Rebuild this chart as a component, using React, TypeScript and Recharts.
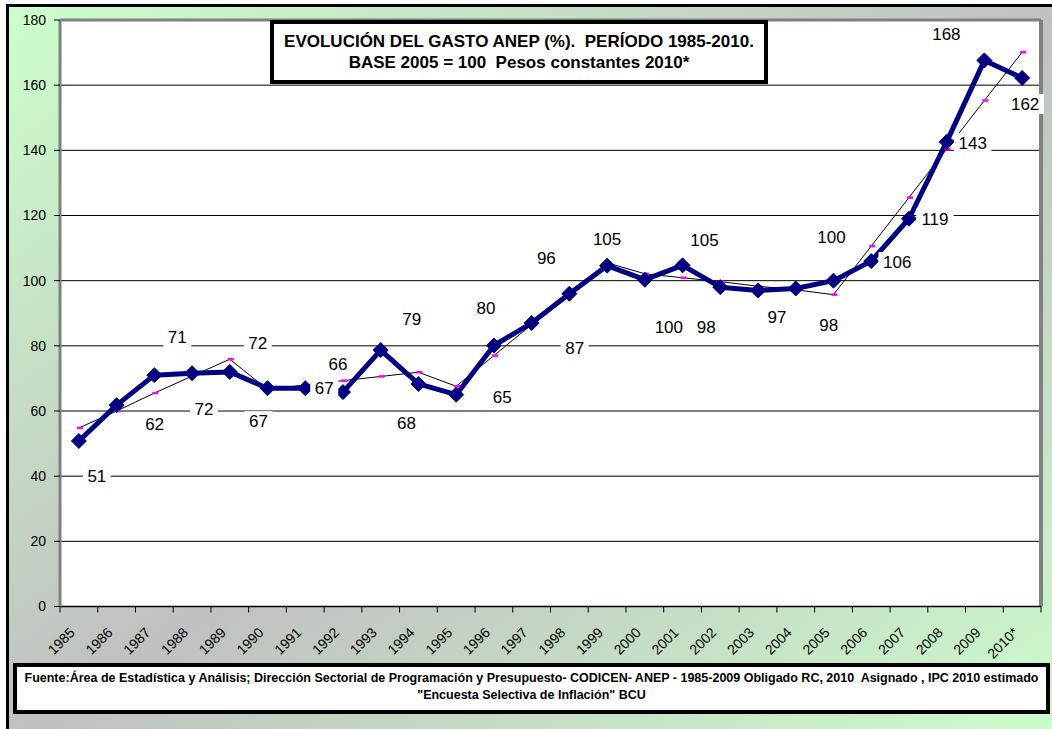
import React from "react";
import { ComposedChart, Line, XAxis, YAxis, CartesianGrid, LabelList, ReferenceLine } from "recharts";

const years = [
  "1985", "1986", "1987", "1988", "1989", "1990", "1991", "1992", "1993", "1994", "1995", "1996", "1997",
  "1998", "1999", "2000", "2001", "2002", "2003", "2004", "2005", "2006", "2007", "2008", "2009", "2010*",
];

// gasto ANEP, base 2005 = 100
const gasto = [
  50.8, 61.8, 71, 71.6, 72, 67, 67, 65.8, 78.7, 68.3, 65, 80.1, 87, 96, 104.6, 100.3, 104.7, 98, 97, 97.6, 100,
  106, 119, 142.6, 167.6, 162.2,
];

// línea fina con marcadores fucsia
const tendencia = [
  54.8, 60, 65.5, 70.7, 75.9, 66.6, 68, 69.3, 70.6, 71.9, 67.6, 77, 86.5, 96, 105.5, 102.1, 100.9, 99.7, 98.3,
  97.2, 95.7, 110.6, 125.5, 140.4, 155.3, 170.1,
];

const yTicks = [0, 20, 40, 60, 80, 100, 120, 140, 160, 180];

// desplazamiento (px) de cada etiqueta respecto de su punto
const labelOffsets: [number, number][] = [
  [18, 35], [38, 19], [23, -38], [12, 36], [28, -29], [-9, 33], [19, 0], [-5, -28], [31, -31], [-12, 39],
  [46, 2], [-8, -38], [43, 25], [-23, -36], [0, -27], [24, 47], [22, -25], [-14, 40], [19, 27], [33, 37],
  [-2, -44], [26, 1], [26, 0], [26, 1], [-38, -26], [3, 26],
];

const data = years.map((year, i) => ({ i, year, gasto: gasto[i], tendencia: tendencia[i] }));
// ticks at band centers (labels) and band edges (tick marks)
const xTicks = years.flatMap((_, i) => [i - 0.5, i]).concat(years.length - 0.5);

function XTick(props: any) {
  const { x, y, payload } = props;
  const v = payload.value;
  if (!Number.isInteger(v)) {
    return <line x1={x} y1={y} x2={x} y2={y + 6} stroke="#000" />;
  }
  const ax = x - 3;
  const ay = y + 27;
  return (
    <text x={ax} y={ay} textAnchor="end" fontSize={14} fill="#000" transform={`rotate(-45 ${ax} ${ay})`}>
      {years[v]}
    </text>
  );
}

function Diamond(props: any) {
  const { cx, cy } = props;
  const r = 7.5;
  return (
    <polygon
      points={`${cx},${cy - r} ${cx + r},${cy} ${cx},${cy + r} ${cx - r},${cy}`}
      fill="#000080"
      stroke="#000080"
    />
  );
}

function Dash(props: any) {
  const { cx, cy } = props;
  return <rect x={cx - 2} y={cy - 1.25} width={6} height={2.5} fill="#ff00ff" />;
}

function GastoLabel(props: any) {
  const { x, y, value, index } = props;
  const [dx, dy] = labelOffsets[index] || [0, -20];
  const text = String(Math.round(value));
  const w = text.length * 9.5 + 9;
  const cx = x + dx;
  const cy = y + dy;
  return (
    <g>
      <rect x={cx - w / 2} y={cy - 10} width={w} height={20} fill="#fff" />
      <text x={cx} y={cy + 6} textAnchor="middle" fontSize={17} fill="#000">
        {text}
      </text>
    </g>
  );
}

export default function App() {
  return (
    <div
      style={{
        position: "fixed",
        left: 0,
        top: 0,
        width: 1052,
        height: 729,
        overflow: "hidden",
        background: "#fff",
        fontFamily: "Arial, 'Liberation Sans', sans-serif",
      }}
    >
      <div
        style={{
          position: "absolute",
          left: 6,
          top: 4,
          width: 1060,
          height: 740,
          borderLeft: "3px solid #000",
          borderTop: "3px solid #000",
          background: "linear-gradient(to bottom right, #ccffcc 0%, #c0c0c0 50%, #ccffcc 100%)",
        }}
      />
      <div style={{ position: "absolute", left: 0, top: 0 }}>
        <ComposedChart width={1052} height={729} data={data} margin={{ top: 20, right: 11, left: 10, bottom: 66.5 }}>
          <CartesianGrid vertical={false} stroke="#000" fill="#fff" />
          <XAxis
            type="number"
            dataKey="i"
            domain={[-0.5, 25.5]}
            ticks={xTicks}
            interval={0}
            tickLine={false}
            tickSize={0}
            tickMargin={0}
            tick={<XTick />}
            height={56}
            axisLine={{ stroke: "#000", strokeWidth: 1.5 }}
            allowDataOverflow
          />
          <YAxis
            type="number"
            domain={[0, 180]}
            ticks={yTicks}
            interval={0}
            width={50}
            tickSize={6}
            tickMargin={8}
            tick={{ fill: "#000", fontSize: 14 }}
            tickLine={{ stroke: "#000" }}
            axisLine={{ stroke: "#808080", strokeWidth: 3 }}
          />
          <ReferenceLine y={180} stroke="#808080" strokeWidth={3} />
          <ReferenceLine x={25.5} stroke="#808080" strokeWidth={4} />
          <Line
            dataKey="tendencia"
            stroke="#000"
            strokeWidth={1}
            dot={(p: any) => <Dash key={`d${p.index}`} {...p} />}
            activeDot={false}
            isAnimationActive={false}
          />
          <Line
            dataKey="gasto"
            stroke="#000080"
            strokeWidth={5}
            strokeLinejoin="round"
            dot={(p: any) => <Diamond key={`g${p.index}`} {...p} />}
            activeDot={false}
            isAnimationActive={false}
          >
            <LabelList dataKey="gasto" content={GastoLabel} />
          </Line>
        </ComposedChart>
      </div>
      <div
        style={{
          position: "absolute",
          left: 270,
          top: 20,
          width: 498,
          height: 64,
          boxSizing: "border-box",
          border: "4px solid #000",
          background: "#fff",
          textAlign: "center",
          fontWeight: "bold",
          fontSize: 17,
          lineHeight: "21px",
          paddingTop: 7,
          whiteSpace: "pre",
        }}
      >
        {"EVOLUCIÓN DEL GASTO ANEP (%).  PERÍODO 1985-2010.\nBASE 2005 = 100  Pesos constantes 2010*"}
      </div>
      <div
        style={{
          position: "absolute",
          left: 13,
          top: 663,
          width: 1037,
          height: 51,
          boxSizing: "border-box",
          border: "4px solid #000",
          background: "#fff",
          textAlign: "center",
          fontWeight: "bold",
          fontSize: 12.5,
          lineHeight: "17px",
          paddingTop: 3,
          whiteSpace: "pre",
        }}
      >
        {
          'Fuente:Área de Estadística y Análisis; Dirección Sectorial de Programación y Presupuesto- CODICEN- ANEP - 1985-2009 Obligado RC, 2010  Asignado , IPC 2010 estimado\n"Encuesta Selectiva de Inflación" BCU'
        }
      </div>
    </div>
  );
}
